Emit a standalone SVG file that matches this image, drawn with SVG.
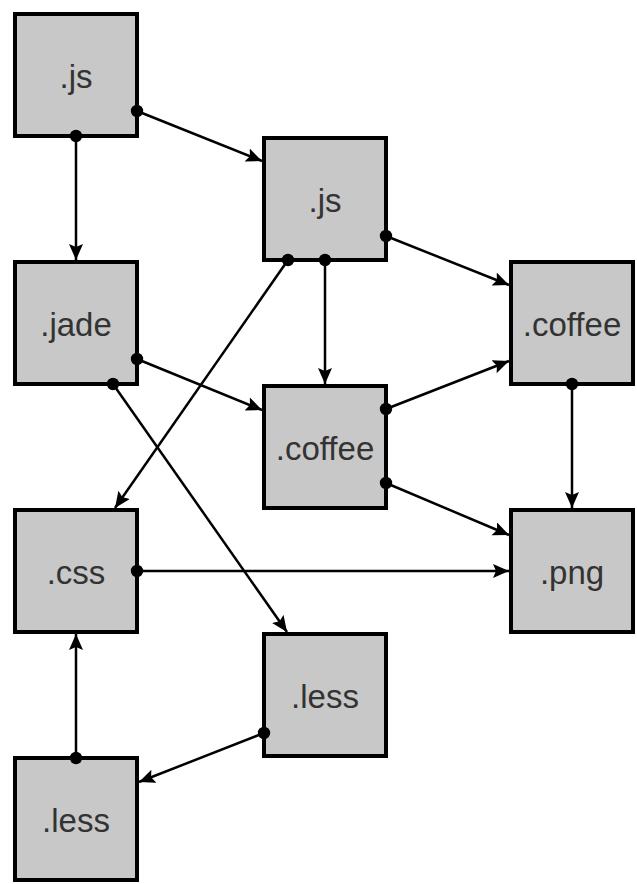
<svg xmlns="http://www.w3.org/2000/svg" width="637" height="884" viewBox="0 0 637 884">
<style>
.box rect{fill:#c8c8c8;stroke:#000;stroke-width:4}
.box text{font-family:"Liberation Sans",Arial,sans-serif;font-size:33px;fill:#333;text-anchor:middle}
.edges line{stroke:#000;stroke-width:2.5;fill:none;marker-start:url(#dot);marker-end:url(#arrow)}
</style>
<defs>
<marker id="arrow" markerUnits="userSpaceOnUse" markerWidth="18" markerHeight="16" refX="16" refY="7" orient="auto" viewBox="0 0 18 16">
<path d="M0,0 L16,7 L0,14 L3,7 z" fill="#000"/>
</marker>
<marker id="dot" markerUnits="userSpaceOnUse" markerWidth="14" markerHeight="14" refX="7" refY="7" viewBox="0 0 14 14">
<circle cx="7" cy="7" r="6.2" fill="#000"/>
</marker>
</defs>
<rect width="637" height="884" fill="#fff"/>
<g class="box" id="node-js1"><rect x="15" y="14" width="122" height="122"/><text x="76" y="88">.js</text></g>
<g class="box" id="node-js2"><rect x="264" y="138" width="122" height="122"/><text x="325" y="212">.js</text></g>
<g class="box" id="node-jade"><rect x="15" y="262" width="122" height="122"/><text x="76" y="336">.jade</text></g>
<g class="box" id="node-coffee1"><rect x="511" y="262" width="122" height="122"/><text x="572" y="336">.coffee</text></g>
<g class="box" id="node-coffee2"><rect x="264" y="386" width="122" height="122"/><text x="325" y="460">.coffee</text></g>
<g class="box" id="node-css"><rect x="15" y="510" width="122" height="122"/><text x="76" y="584">.css</text></g>
<g class="box" id="node-png"><rect x="511" y="510" width="122" height="122"/><text x="572" y="584">.png</text></g>
<g class="box" id="node-less1"><rect x="264" y="634" width="122" height="122"/><text x="325" y="708">.less</text></g>
<g class="box" id="node-less2"><rect x="15" y="758" width="122" height="122"/><text x="76" y="832">.less</text></g>
<g class="edges" id="connectors">
<line x1="76" y1="136" x2="76" y2="260"/>
<line x1="137" y1="111" x2="262" y2="161"/>
<line x1="288" y1="260" x2="115" y2="508"/>
<line x1="325" y1="260" x2="325" y2="384"/>
<line x1="386" y1="236" x2="509" y2="285"/>
<line x1="137" y1="359" x2="262" y2="410"/>
<line x1="113" y1="384" x2="287" y2="632"/>
<line x1="386" y1="409" x2="509" y2="361"/>
<line x1="386" y1="483" x2="509" y2="535"/>
<line x1="572" y1="384" x2="572" y2="508"/>
<line x1="137" y1="571" x2="509" y2="571"/>
<line x1="264" y1="733" x2="139" y2="782"/>
<line x1="76" y1="758" x2="76" y2="634"/>
</g>
</svg>
